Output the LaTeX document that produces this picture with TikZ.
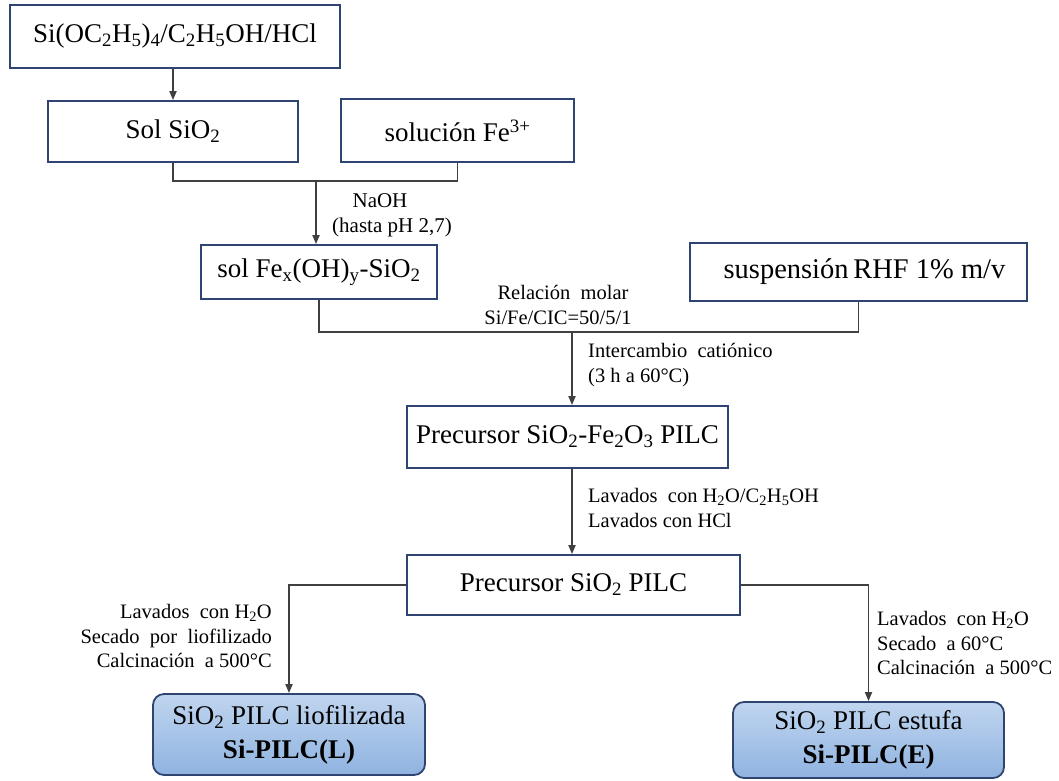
\documentclass[tikz,border=0pt]{standalone}
\usepackage{fontspec}
\setmainfont{Liberation Serif}
\usetikzlibrary{arrows.meta}
\definecolor{boxblue}{RGB}{47,68,112}
\definecolor{linegray}{RGB}{64,64,64}
\definecolor{filltop}{RGB}{192,213,239}
\definecolor{fillbot}{RGB}{143,179,224}
\newcommand{\idx}[1]{\textsubscript{#1}}
\tikzset{
  stepbox/.style={draw=boxblue, line width=1.8pt, inner sep=0pt, align=center,
    font=\fontsize{27}{34}\selectfont},
  endbox/.style={stepbox, rounded corners=11pt, top color=filltop, bottom color=fillbot},
  flow/.style={draw=linegray, line width=1.8pt},
  flowarrow/.style={flow, -{Triangle[length=9pt,width=7pt]}},
  note/.style={inner sep=0pt, font=\fontsize{20.5}{24.5}\selectfont},
}
\begin{document}
\begin{tikzpicture}[x=1pt, y=-1pt]
			%%%%% FRAME %%%%%
			\useasboundingbox (0,0) rectangle (1059,780);
			
			%%%%% BOXES %%%%%
			\node[stepbox, minimum width=330, minimum height=63] (teos) at (175, 36.5) {Si(OC\idx{2}H\idx{5})\idx{4}/C\idx{2}H\idx{5}OH/HCl};
			\node[stepbox, minimum width=250, minimum height=61] (solsi) at (173, 131.5) {Sol SiO\idx{2}};
			\node[stepbox, minimum width=233, minimum height=63] (solfe) at (457.5, 130.5) {solución Fe\textsuperscript{3+}};
			\node[stepbox, minimum width=236, minimum height=54] (solfex) at (319, 272) {sol Fe\idx{x}(OH)\idx{y}-SiO\idx{2}};
			\node[stepbox, minimum width=337, minimum height=58, font=\fontsize{28.5}{34}\selectfont] (rhf) at (858.5, 272) {\hspace*{12pt}suspensión\,RHF 1\% m/v};
			\node[stepbox, minimum width=321, minimum height=62] (precA) at (567.5, 437) {Precursor SiO\idx{2}-Fe\idx{2}O\idx{3} PILC};
			\node[stepbox, minimum width=333, minimum height=60] (precB) at (573.5, 585) {Precursor SiO\idx{2} PILC};
			\node[endbox, minimum width=272, minimum height=81] (pilcL) at (289, 734.5) {SiO\idx{2} PILC liofilizada\\\textbf{Si-PILC(L)}};
			\node[endbox, minimum width=271, minimum height=76] (pilcE) at (868.5, 740) {SiO\idx{2} PILC estufa\\\textbf{Si-PILC(E)}};
			
			%%%%% JOINTS %%%%%
			\coordinate (jA) at (316, 180);
			\coordinate (jB) at (572, 331);
			
			%%%%% CONNECTORS %%%%%
			\draw[flowarrow] (solsi.north |- teos.south) -- (solsi.north);
			\draw[flow] (solsi.south) -- ++(0,18) -| (solfe.south);
			\draw[flowarrow] (jA) -- (jA |- solfex.north);
			\draw[flow] (solfex.south) -- ++(0,32) -| (rhf.south);
			\draw[flowarrow] (jB) -- (jB |- precA.north);
			\draw[flowarrow] (jB |- precA.south) -- (jB |- precB.north);
			\draw[flowarrow] (precB.west) -| (pilcL.north);
			\draw[flowarrow] (precB.east) -| (pilcE.north);
			
			%%%%% LABELS %%%%%
			\node[note, align=center, font=\fontsize{21}{25}\selectfont] (naoh) at (392, 215) {\hspace*{-24pt}NaOH\\(hasta pH 2,7)};
			\node[note, align=center, font=\fontsize{20.5}{25}\selectfont] (molar) at (558, 305) {\hspace*{10pt}Relación\ \ molar\\Si/Fe/CIC=50/5/1};
			\node[note, align=left, anchor=west] (inter) at (588, 365) {Intercambio\ \ catiónico\\(3 h a 60°C)};
			\node[note, align=left, anchor=west] (lavA) at (588, 508) {Lavados\ \ con H\idx{2}O/C\idx{2}H\idx{5}OH\\Lavados con HCl};
			\node[note, align=right, anchor=east] (lavL) at (272, 636) {Lavados\ \ con H\idx{2}O\\Secado\ \ por\ \ liofilizado\\Calcinación\ \ a 500°C};
			\node[note, align=left, anchor=west] (lavE) at (877, 643) {Lavados\ \ con H\idx{2}O\\Secado\ \ a 60°C\\Calcinación\ \ a 500°C};
			
			%%%%% END %%%%%
\end{tikzpicture}
\end{document}
